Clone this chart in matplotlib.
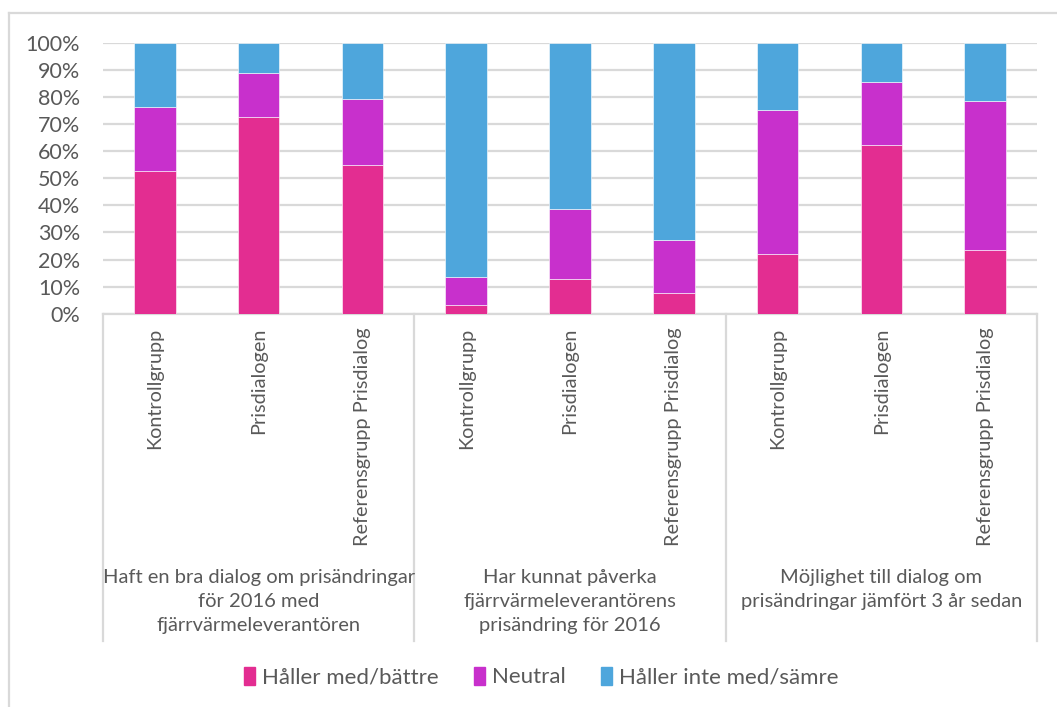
import numpy as np
import matplotlib
matplotlib.use("Agg")
import matplotlib.pyplot as plt
from matplotlib.lines import Line2D
from matplotlib.patches import Patch

plt.rcParams['font.family'] = ['Lato', 'DejaVu Sans']

# data (share of answers, %)
categories = ["Kontrollgrupp", "Prisdialogen", "Referensgrupp Prisdialog"] * 3
groups = ["Haft en bra dialog om prisändringar\nför 2016 med\nfjärrvärmeleverantören",
          "Har kunnat påverka\nfjärrvärmeleverantörens\nprisändring för 2016",
          "Möjlighet till dialog om\nprisändringar jämfört 3 år sedan"]
battre = [52.5, 72.5, 55.0, 3.1, 12.8, 7.5, 22.0, 62.1, 23.4]
neutral = [23.7, 16.2, 24.1, 10.6, 25.9, 19.7, 53.3, 23.3, 55.2]
samre = [100 - a - b for a, b in zip(battre, neutral)]
series_names = ["Håller med/bättre", "Neutral", "Håller inte med/sämre"]
colors = ["#E32D91", "#C830CC", "#4EA6DC"]

W, H = 1057, 707
fig = plt.figure(figsize=(W / 100, H / 100), dpi=100)
ax = fig.add_axes([103 / W, 1 - 313.7 / H, (1037 - 103) / W, (313.7 - 42.7) / H])

txt = "#595959"
grid = "#D9D9D9"
x = np.arange(len(categories))
bottom = np.zeros(len(x))
for vals, c in zip([battre, neutral, samre], colors):
    ax.bar(x, vals, 0.4, bottom=bottom, color=c, edgecolor="white", linewidth=0.4, zorder=3)
    bottom += np.array(vals)

ax.set_xlim(-0.5, 8.5)
ax.set_ylim(0, 100)
ax.set_yticks(np.arange(0, 101, 10))
ax.set_yticklabels([f"{v}%" for v in range(0, 101, 10)], fontsize=15.5, color=txt)
ax.yaxis.grid(True, color=grid, linewidth=1.6, zorder=0)
ax.tick_params(axis="y", length=0, pad=16.5)
ax.set_xticks(x)
ax.set_xticklabels(categories, rotation=90, va="top", ha="center", fontsize=14.3, color=txt)
ax.tick_params(axis="x", length=0, pad=10)
for s in ["top", "right", "left"]:
    ax.spines[s].set_visible(False)
ax.spines["bottom"].set_color(grid)
ax.spines["bottom"].set_linewidth(1.6)

# group separators and labels
tr = ax.get_xaxis_transform()
ylow = -(640.7 - 313.7) / 271
for xs in [-0.5, 2.5, 5.5, 8.5]:
    ax.plot([xs, xs], [0, ylow], transform=tr, color=grid, linewidth=1.6, clip_on=False)
for i, g in enumerate(groups):
    ax.text(1 + 3 * i, -(569 - 313.7) / 271, g, transform=tr, ha="center", va="top",
            fontsize=14.5, color=txt, linespacing=1.5)

# chart frame (left + top edges)
fig.add_artist(Line2D([9 / W, 9 / W], [0, 1 - 13 / H], color=grid, linewidth=1.6))
fig.add_artist(Line2D([9 / W, 1], [1 - 13 / H, 1 - 13 / H], color=grid, linewidth=1.6))

handles = [Patch(color=c) for c in colors]
fig.legend(handles, series_names, loc="center", bbox_to_anchor=(541 / W, 1 - 677 / H), ncol=3,
           frameon=False, fontsize=16, handlelength=0.5, handleheight=0.9, handletextpad=0.3,
           columnspacing=1.6, labelcolor=txt)

fig.savefig("out.png", dpi=100)
